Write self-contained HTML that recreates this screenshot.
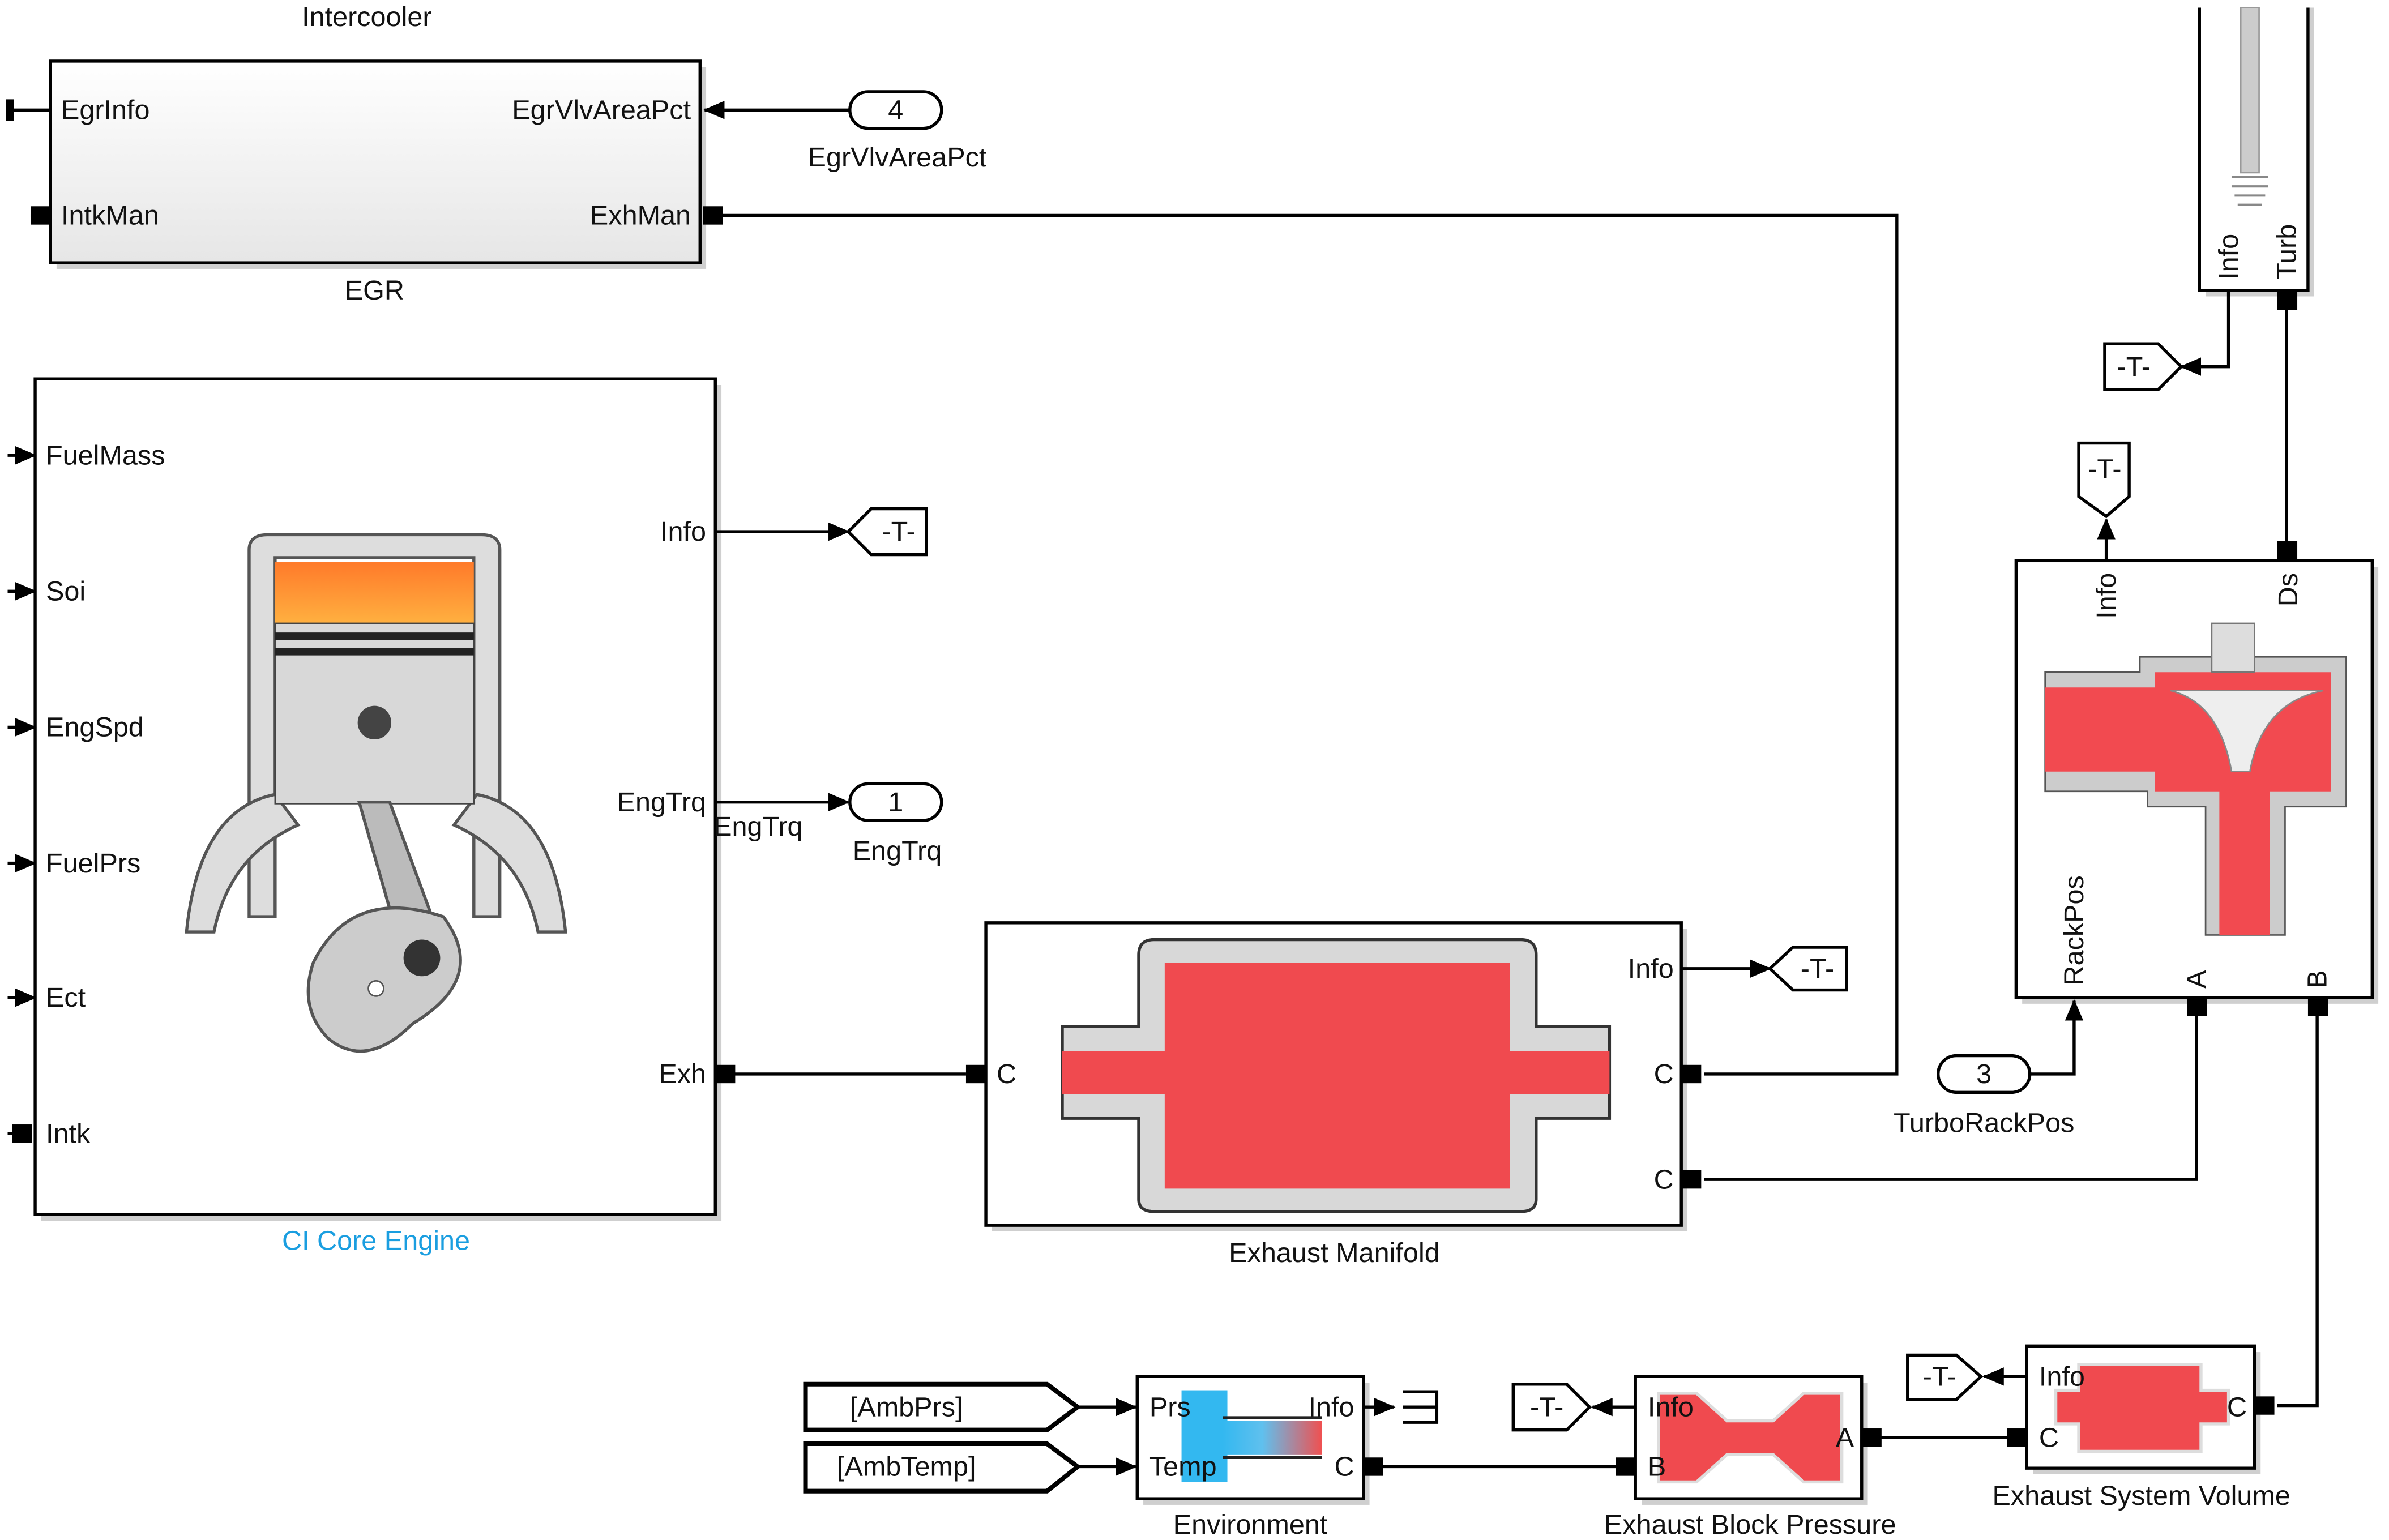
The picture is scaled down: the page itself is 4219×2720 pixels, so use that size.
<!DOCTYPE html>
<html><head><meta charset="utf-8"><style>
html,body{margin:0;padding:0;background:#fff;}
svg{display:block;}
text{font-family:"Liberation Sans",sans-serif;font-size:18px;fill:#111;}
</style></head><body>
<svg width="4219" height="2720" viewBox="0 0 1563 1008" preserveAspectRatio="none" xmlns="http://www.w3.org/2000/svg">
<defs>
<marker id="ar" markerWidth="14" markerHeight="14" refX="13" refY="7" orient="auto" markerUnits="userSpaceOnUse"><path d="M0,1 L14,7 L0,13 z" fill="#000"/></marker>
<linearGradient id="eg" x1="0" y1="0" x2="0" y2="1"><stop offset="0" stop-color="#fff"/><stop offset="1" stop-color="#e6e6e6"/></linearGradient>
<linearGradient id="pg" x1="0" y1="0" x2="0" y2="1"><stop offset="0" stop-color="#ff7a2a"/><stop offset="1" stop-color="#ffb040"/></linearGradient>
<linearGradient id="env" x1="0" y1="0" x2="1" y2="0"><stop offset="0" stop-color="#33b8f0"/><stop offset="0.4" stop-color="#60c0ee"/><stop offset="1" stop-color="#f05050"/></linearGradient>
</defs>
<g fill="none" stroke="#000" stroke-width="2">
<g stroke="none" fill="#cfcfcf">
<rect x="37" y="44" width="425" height="132"/>
<rect x="27" y="252" width="445" height="547"/>
<rect x="649" y="608" width="455" height="198"/>
<rect x="1323" y="371" width="233" height="286"/>
<rect x="1443" y="5" width="71" height="189"/>
<rect x="1330" y="885" width="149" height="80"/>
<rect x="1074" y="905" width="148" height="80"/>
<rect x="748" y="905" width="148" height="80"/>
</g>
<rect x="33" y="40" width="425" height="132" fill="url(#eg)"/>
<rect x="23" y="248" width="445" height="547" fill="#fff"/>
<rect x="645" y="604" width="455" height="198" fill="#fff"/>
<rect x="1319" y="367" width="233" height="286" fill="#fff"/>
<path d="M1439,5 V190 H1510 V5" fill="#fff"/>
<rect x="1326" y="881" width="149" height="80" fill="#fff"/>
<rect x="1070" y="901" width="148" height="80" fill="#fff"/>
<rect x="744" y="901" width="148" height="80" fill="#fff"/>

<path d="M163,360 Q163,350 175,350 H315 Q327,350 327,360 V600 L310,600 V365 H180 V600 L163,600 Z" fill="#ddd" stroke="#555"/>
<path d="M122,610 Q130,530 180,520 L195,540 Q150,560 140,610 Z" fill="#ddd" stroke="#555"/>
<path d="M370,610 Q362,530 312,520 L297,540 Q342,560 352,610 Z" fill="#ddd" stroke="#555"/>
<rect x="180" y="368" width="130" height="40" fill="url(#pg)" stroke="none"/>
<rect x="180" y="408" width="130" height="118" fill="#d8d8d8" stroke="#444" stroke-width="1"/>
<rect x="180" y="414" width="130" height="5" fill="#222" stroke="none"/>
<rect x="180" y="424" width="130" height="5" fill="#222" stroke="none"/>
<circle cx="245" cy="473" r="11" fill="#444" stroke="none"/>
<path d="M235,525 L255,525 L290,620 L265,630 Z" fill="#bbb" stroke="#555"/>
<path d="M205,630 Q230,580 290,600 Q320,640 270,670 Q240,700 215,680 Q195,660 205,630 Z" fill="#ccc" stroke="#555"/>
<circle cx="276" cy="627" r="12" fill="#333" stroke="none"/>
<circle cx="246" cy="647" r="5" fill="#fff" stroke="#555" stroke-width="1"/>

<path d="M695,672 H745 V625 Q745,615 755,615 H995 Q1005,615 1005,625 V672 H1053 V732 H1005 V785 Q1005,793 995,793 H755 Q745,793 745,785 V732 H695 Z" fill="#d8d8d8" stroke="#333"/>
<path d="M695,688 H762 V630 H988 V688 H1053 V716 H988 V778 H762 V716 H695 Z" fill="#f04a4f" stroke="none"/>

<path d="M1338,440 H1400 V430 H1535 V528 H1495 V612 H1443 V528 H1405 V518 H1338 Z" fill="#ccc" stroke="#555" stroke-width="1"/>
<path d="M1338,450 H1410 V440 H1525 V518 H1485 V612 H1452 V518 H1410 V505 H1338 Z" fill="#f24a50" stroke="none"/>
<rect x="1447" y="408" width="28" height="32" fill="#ddd" stroke="#777" stroke-width="1"/>
<path d="M1420,452 H1520 Q1480,460 1472,505 H1460 Q1452,460 1420,452 Z" fill="#eee" stroke="#888" stroke-width="1"/>
<rect x="1466" y="5" width="12" height="108" fill="#ccc" stroke="#999" stroke-width="1"/>
<g stroke="#888" stroke-width="1.5"><line x1="1460" y1="116" x2="1484" y2="116"/><line x1="1460" y1="122" x2="1484" y2="122"/><line x1="1462" y1="128" x2="1482" y2="128"/><line x1="1464" y1="134" x2="1480" y2="134"/></g>

<rect x="773" y="910" width="30" height="60" fill="#33b8f0" stroke="none"/>
<rect x="800" y="930" width="65" height="22" fill="url(#env)" stroke="none"/>
<line x1="800" y1="928" x2="865" y2="928" stroke="#222"/>
<line x1="800" y1="954" x2="865" y2="954" stroke="#222"/>
<path d="M1085,912 H1110 L1130,930 H1160 L1180,912 H1205 V970 H1180 L1160,952 H1130 L1110,970 H1085 Z" fill="#f04a4f" stroke="#ddd"/>
<path d="M1360,893 H1440 V910 H1458 V932 H1440 V950 H1360 V932 H1345 V910 H1360 Z" fill="#f04a4f" stroke="#ddd"/>

<line x1="556" y1="72" x2="461" y2="72" marker-end="url(#ar)"/>
<line x1="33" y1="72" x2="8" y2="72"/><rect x="5" y="66" width="3" height="12" fill="#000"/>
<line x1="20" y1="141" x2="33" y2="141"/>
<polyline points="470,141 1241,141 1241,703 1115,703"/>
<polyline points="468,348 555,348" marker-end="url(#ar)"/>
<polyline points="468,525 555,525" marker-end="url(#ar)"/>
<line x1="478" y1="703" x2="632" y2="703"/>
<line x1="1100" y1="634" x2="1158" y2="634" marker-end="url(#ar)"/>
<polyline points="1115,772 1437,772 1437,665"/>
<polyline points="1328,703 1357,703 1357,655" marker-end="url(#ar)"/>
<line x1="1496" y1="203" x2="1496" y2="354"/>
<polyline points="1458,190 1458,240 1427,240" marker-end="url(#ar)"/>
<line x1="1378" y1="367" x2="1378" y2="340" marker-end="url(#ar)"/>
<polyline points="1516,665 1516,920 1490,920"/>
<line x1="1326" y1="901" x2="1298" y2="901" marker-end="url(#ar)"/>
<line x1="1228" y1="941" x2="1318" y2="941"/>
<line x1="1070" y1="921" x2="1042" y2="921" marker-end="url(#ar)"/>
<line x1="902" y1="960" x2="1062" y2="960"/>
<line x1="892" y1="921" x2="912" y2="921" marker-end="url(#ar)"/>
<path d="M918,911 H940 V931 H918 M918,921 H940"/>
<line x1="705" y1="921" x2="743" y2="921" marker-end="url(#ar)"/>
<line x1="705" y1="960" x2="743" y2="960" marker-end="url(#ar)"/>
<line x1="5" y1="298" x2="23" y2="298" marker-end="url(#ar)"/>
<line x1="5" y1="387" x2="23" y2="387" marker-end="url(#ar)"/>
<line x1="5" y1="476" x2="23" y2="476" marker-end="url(#ar)"/>
<line x1="5" y1="565" x2="23" y2="565" marker-end="url(#ar)"/>
<line x1="5" y1="653" x2="23" y2="653" marker-end="url(#ar)"/>
<line x1="5" y1="742" x2="12" y2="742"/>

<rect x="556" y="60" width="60" height="24" rx="12" fill="#fff"/>
<rect x="556" y="513" width="60" height="24" rx="12" fill="#fff"/>
<rect x="1268" y="691" width="60" height="24" rx="12" fill="#fff"/>
<path d="M555,348 L570,333 H606 V363 H570 Z" fill="#fff"/>
<path d="M1158,634 L1173,620 H1208 V648 H1173 Z" fill="#fff"/>
<path d="M1427,240 L1412,225 H1377 V255 H1412 Z" fill="#fff"/>
<path d="M1378,338 L1360,325 V290 H1393 V325 Z" fill="#fff"/>
<path d="M1296,901 L1280,887 H1248 V916 H1280 Z" fill="#fff"/>
<path d="M1040,921 L1025,906 H990 V936 H1025 Z" fill="#fff"/>
<path d="M527,906 H685 L705,921 L685,936 H527 Z" fill="#fff" stroke-width="3"/>
<path d="M527,945 H685 L705,960 L685,976 H527 Z" fill="#fff" stroke-width="3"/>
</g>

<g fill="#000">
<rect x="20" y="135" width="13" height="12"/>
<rect x="460" y="135" width="13" height="12"/>
<rect x="8" y="736" width="13" height="12"/>
<rect x="468" y="697" width="13" height="12"/>
<rect x="632" y="697" width="13" height="12"/>
<rect x="1100" y="697" width="13" height="12"/>
<rect x="1100" y="766" width="13" height="12"/>
<rect x="1490" y="191" width="13" height="12"/>
<rect x="1490" y="354" width="13" height="12"/>
<rect x="1431" y="653" width="13" height="12"/>
<rect x="1510" y="653" width="13" height="12"/>
<rect x="1475" y="914" width="13" height="12"/>
<rect x="1313" y="935" width="13" height="12"/>
<rect x="1218" y="935" width="13" height="12"/>
<rect x="1057" y="954" width="13" height="12"/>
<rect x="892" y="954" width="13" height="12"/>
</g>

<text x="240" y="17" text-anchor="middle">Intercooler</text>
<text x="40" y="78">EgrInfo</text>
<text x="40" y="147">IntkMan</text>
<text x="452" y="78" text-anchor="end">EgrVlvAreaPct</text>
<text x="452" y="147" text-anchor="end">ExhMan</text>
<text x="245" y="196" text-anchor="middle">EGR</text>
<text x="586" y="78" text-anchor="middle">4</text>
<text x="587" y="109" text-anchor="middle">EgrVlvAreaPct</text>
<text x="30" y="304">FuelMass</text>
<text x="30" y="393">Soi</text>
<text x="30" y="482">EngSpd</text>
<text x="30" y="571">FuelPrs</text>
<text x="30" y="659">Ect</text>
<text x="30" y="748">Intk</text>
<text x="462" y="354" text-anchor="end">Info</text>
<text x="462" y="531" text-anchor="end">EngTrq</text>
<text x="462" y="709" text-anchor="end">Exh</text>
<text x="246" y="818" text-anchor="middle" style="fill:#1a9ee0">CI Core Engine</text>
<text x="588" y="354" text-anchor="middle">-T-</text>
<text x="586" y="531" text-anchor="middle">1</text>
<text x="496" y="547" text-anchor="middle">EngTrq</text>
<text x="587" y="563" text-anchor="middle">EngTrq</text>
<text x="652" y="709">C</text>
<text x="1095" y="640" text-anchor="end">Info</text>
<text x="1095" y="709" text-anchor="end">C</text>
<text x="1095" y="778" text-anchor="end">C</text>
<text x="873" y="826" text-anchor="middle">Exhaust Manifold</text>
<text x="1189" y="640" text-anchor="middle">-T-</text>
<text x="1298" y="709" text-anchor="middle">3</text>
<text x="1298" y="741" text-anchor="middle">TurboRackPos</text>
<text x="1396" y="246" text-anchor="middle">-T-</text>
<text x="1377" y="313" text-anchor="middle">-T-</text>
<text transform="translate(1384,405) rotate(-90)">Info</text>
<text transform="translate(1503,397) rotate(-90)">Ds</text>
<text transform="translate(1363,645) rotate(-90)">RackPos</text>
<text transform="translate(1443,647) rotate(-90)">A</text>
<text transform="translate(1522,647) rotate(-90)">B</text>
<text transform="translate(1464,183) rotate(-90)">Info</text>
<text transform="translate(1502,183) rotate(-90)">Turb</text>
<text x="1334" y="907">Info</text>
<text x="1334" y="947">C</text>
<text x="1470" y="927" text-anchor="end">C</text>
<text x="1401" y="985" text-anchor="middle">Exhaust System Volume</text>
<text x="1269" y="907" text-anchor="middle">-T-</text>
<text x="1078" y="927">Info</text>
<text x="1078" y="966">B</text>
<text x="1213" y="947" text-anchor="end">A</text>
<text x="1145" y="1004" text-anchor="middle">Exhaust Block Pressure</text>
<text x="1012" y="927" text-anchor="middle">-T-</text>
<text x="752" y="927">Prs</text>
<text x="752" y="966">Temp</text>
<text x="886" y="927" text-anchor="end">Info</text>
<text x="886" y="966" text-anchor="end">C</text>
<text x="818" y="1004" text-anchor="middle">Environment</text>
<text x="593" y="927" text-anchor="middle">[AmbPrs]</text>
<text x="593" y="966" text-anchor="middle">[AmbTemp]</text>
</svg>
</body></html>
